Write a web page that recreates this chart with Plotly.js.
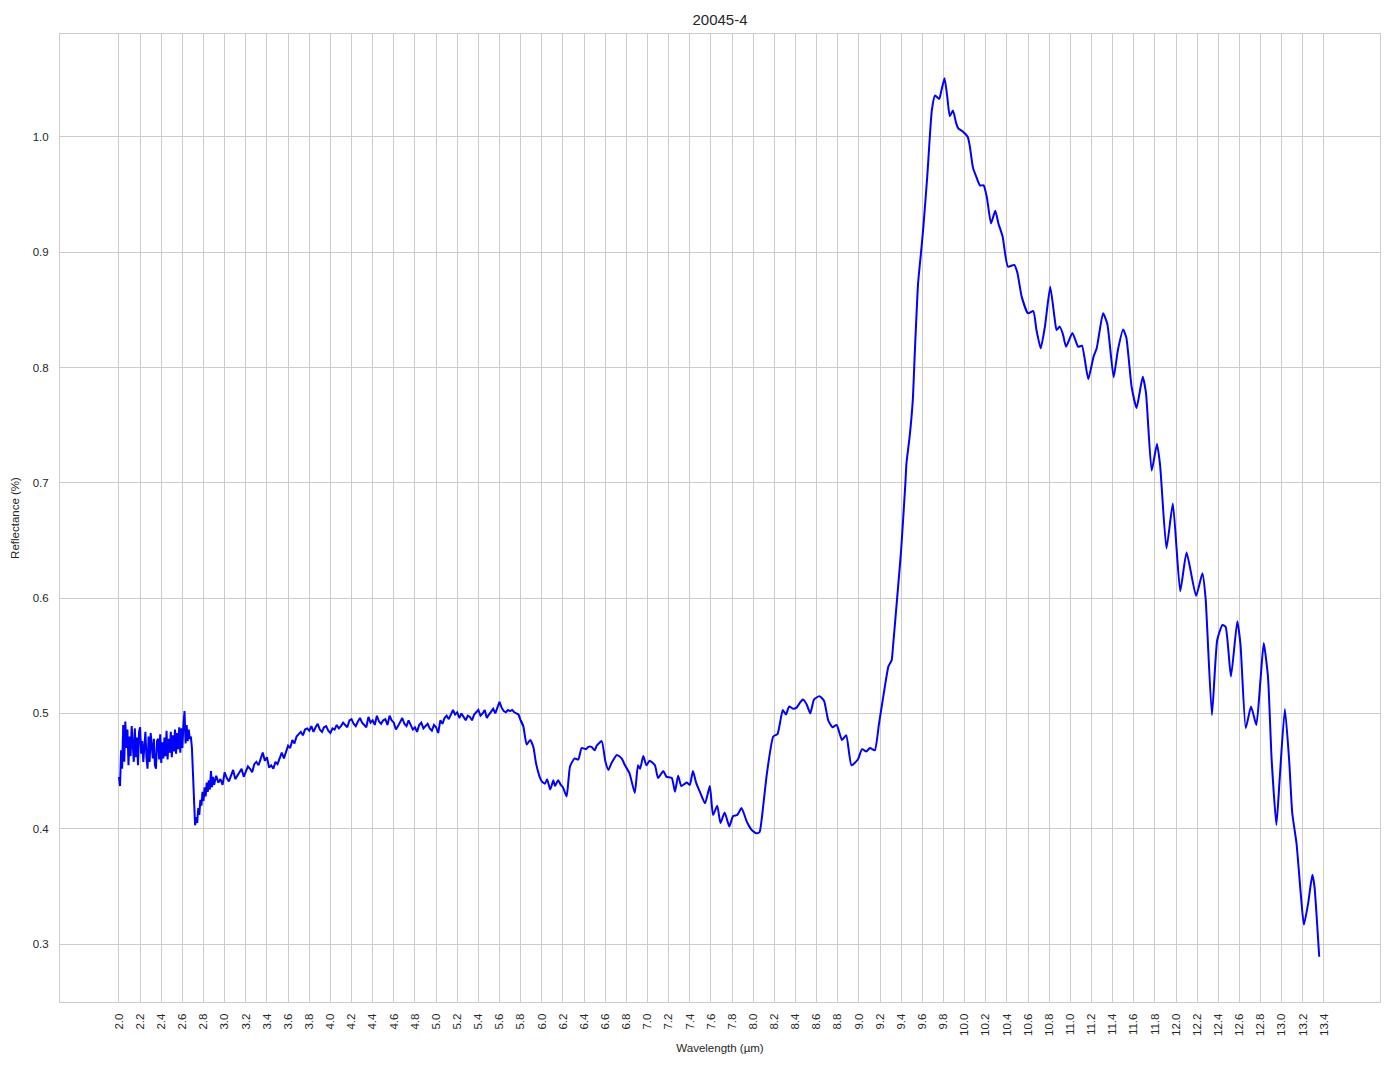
<!DOCTYPE html>
<html>
<head>
<meta charset="utf-8">
<script src="https://cdn.plot.ly/plotly-3.0.1.min.js"></script>
<style>html,body{margin:0;padding:0;background:#fff;}#chart{width:1394px;height:1069px;}</style>
</head>
<body>
<div id="chart"></div>
<script>
// Wavelength (µm) — dense noisy start
const wlStart = [2.00,2.01,2.02,2.03,2.04,2.05,2.06,2.07,2.08,2.09,2.10,2.11,2.12,2.13,2.14,2.15,2.16,2.17,2.18,2.19,
2.20,2.21,2.22,2.23,2.24,2.25,2.26,2.27,2.28,2.29,2.30,2.31,2.32,2.33,2.34,2.35,2.36,2.37,2.38,2.39,
2.40,2.41,2.42,2.43,2.44,2.45,2.46,2.47,2.48,2.49,2.50,2.51,2.52,2.53,2.54,2.55,2.56,2.57,2.58,2.59,
2.60,2.61,2.62,2.63,2.64,2.65,2.66,2.67,2.68,2.69,2.70,2.71,2.72,2.73,2.74,2.75,2.76,2.77,2.78,2.79,
2.80,2.81,2.82,2.83,2.84,2.85,2.86,2.87,2.88,2.89,2.90];
const reflStart = [0.445,0.437,0.468,0.452,0.490,0.458,0.493,0.470,0.486,0.455,0.480,0.463,0.489,0.472,0.458,0.487,0.462,0.479,0.455,0.484,
0.488,0.465,0.476,0.458,0.470,0.484,0.462,0.452,0.480,0.458,0.483,0.470,0.461,0.478,0.455,0.452,0.476,0.478,0.460,0.482,
0.457,0.475,0.461,0.479,0.463,0.485,0.460,0.478,0.466,0.484,0.462,0.481,0.467,0.486,0.465,0.483,0.469,0.488,0.466,0.487,
0.470,0.491,0.502,0.474,0.490,0.476,0.486,0.478,0.480,0.470,0.445,0.412,0.403,0.410,0.405,0.418,0.412,0.425,0.420,0.432,
0.424,0.436,0.428,0.440,0.432,0.442,0.434,0.450,0.436,0.445,0.438];

// Wavelength (µm) — plateau 2.92–5.80
const wlMid = [2.92,2.94,2.96,2.98,3.00,3.02,3.04,3.06,3.08,3.10,3.12,3.14,3.16,3.18,3.20,3.22,3.24,3.26,3.28,3.30,
3.32,3.34,3.36,3.38,3.40,3.42,3.44,3.46,3.48,3.50,3.52,3.54,3.56,3.58,3.60,3.62,3.64,3.66,3.68,3.70,
3.72,3.74,3.76,3.78,3.80,3.82,3.84,3.86,3.88,3.90,3.92,3.94,3.96,3.98,4.00,4.02,4.04,4.06,4.08,4.10,
4.12,4.14,4.16,4.18,4.20,4.22,4.24,4.26,4.28,4.30,4.32,4.34,4.36,4.38,4.40,4.42,4.44,4.46,4.48,4.50,
4.52,4.54,4.56,4.58,4.60,4.62,4.64,4.66,4.68,4.70,4.72,4.74,4.76,4.78,4.80,4.82,4.84,4.86,4.88,4.90,
4.92,4.94,4.96,4.98,5.00,5.02,5.04,5.06,5.08,5.10,5.12,5.14,5.16,5.18,5.20,5.22,5.24,5.26,5.28,5.30,
5.32,5.34,5.36,5.38,5.40,5.42,5.44,5.46,5.48,5.50,5.52,5.54,5.56,5.58,5.60,5.62,5.64,5.66,5.68,5.70,
5.72,5.74,5.76,5.78,5.80];
const reflMid = [0.446,0.440,0.443,0.438,0.449,0.444,0.441,0.447,0.451,0.443,0.446,0.449,0.452,0.445,0.450,0.454,0.452,0.449,0.456,0.458,
0.455,0.460,0.466,0.459,0.462,0.453,0.455,0.452,0.458,0.456,0.462,0.466,0.461,0.467,0.472,0.470,0.477,0.474,0.480,0.482,
0.484,0.481,0.486,0.487,0.485,0.489,0.484,0.488,0.491,0.486,0.484,0.488,0.489,0.485,0.483,0.487,0.486,0.490,0.487,0.489,
0.492,0.490,0.488,0.494,0.495,0.491,0.489,0.493,0.496,0.492,0.490,0.488,0.497,0.492,0.494,0.490,0.498,0.493,0.491,0.494,
0.495,0.490,0.498,0.494,0.492,0.486,0.489,0.493,0.496,0.491,0.489,0.494,0.490,0.486,0.488,0.484,0.490,0.492,0.487,0.489,
0.491,0.487,0.485,0.490,0.488,0.483,0.494,0.491,0.496,0.498,0.495,0.499,0.503,0.499,0.501,0.496,0.500,0.497,0.494,0.498,
0.497,0.494,0.499,0.501,0.503,0.498,0.500,0.503,0.496,0.499,0.502,0.504,0.500,0.506,0.510,0.505,0.502,0.501,0.503,0.502,
0.503,0.501,0.500,0.499,0.494];

// Wavelength (µm) — smoother tail 5.8–13.4
const wlEnd = [5.825,5.857,5.89,5.92,5.945,5.98,6.00,6.03,6.05,6.08,6.11,6.125,6.155,6.18,6.20,6.235,6.267,6.31,6.345,6.377,
6.42,6.44,6.47,6.50,6.52,6.567,6.60,6.63,6.66,6.71,6.755,6.787,6.83,6.88,6.91,6.93,6.96,6.99,7.02,7.07,
7.10,7.15,7.18,7.23,7.26,7.29,7.32,7.37,7.40,7.43,7.46,7.50,7.544,7.59,7.62,7.66,7.69,7.73,7.774,7.81,
7.85,7.89,7.94,7.985,8.03,8.06,8.08,8.13,8.19,8.23,8.25,8.28,8.31,8.34,8.38,8.41,8.44,8.47,8.505,8.54,
8.575,8.626,8.67,8.71,8.75,8.79,8.84,8.88,8.93,8.99,9.03,9.07,9.105,9.15,9.19,9.24,9.28,9.31,9.32,9.36,
9.40,9.44,9.45,9.48,9.51,9.53,9.56,9.59,9.61,9.647,9.69,9.72,9.76,9.78,9.81,9.836,9.86,9.89,9.92,9.94,
9.98,10.03,10.05,10.08,10.11,10.145,10.18,10.21,10.25,10.29,10.32,10.36,10.41,10.47,10.50,10.54,10.60,10.65,10.68,10.72,
10.76,10.81,10.85,10.87,10.90,10.93,10.96,11.02,11.075,11.11,11.17,11.22,11.25,11.31,11.35,11.41,11.45,11.50,11.53,11.58,
11.627,11.685,11.716,11.77,11.82,11.85,11.91,11.97,12.04,12.10,12.19,12.25,12.28,12.34,12.39,12.44,12.47,12.52,12.58,12.61,
12.66,12.71,12.76,12.80,12.83,12.87,12.905,12.95,12.98,13.03,13.07,13.10,13.14,13.18,13.21,13.25,13.29,13.31,13.337,13.355];
const reflEnd = [0.489,0.473,0.477,0.471,0.457,0.445,0.441,0.439,0.443,0.434,0.442,0.437,0.442,0.438,0.436,0.428,0.454,0.461,0.460,0.470,
0.469,0.471,0.471,0.468,0.472,0.476,0.459,0.451,0.457,0.464,0.461,0.455,0.448,0.431,0.455,0.452,0.463,0.455,0.459,0.455,
0.444,0.450,0.445,0.444,0.432,0.446,0.437,0.440,0.438,0.450,0.440,0.431,0.422,0.437,0.412,0.420,0.405,0.414,0.402,0.411,
0.412,0.418,0.406,0.399,0.396,0.397,0.408,0.448,0.480,0.482,0.490,0.503,0.499,0.506,0.504,0.505,0.509,0.512,0.508,0.500,
0.512,0.515,0.511,0.494,0.488,0.490,0.477,0.481,0.455,0.460,0.469,0.467,0.470,0.468,0.491,0.520,0.541,0.546,0.555,0.598,
0.642,0.700,0.717,0.740,0.772,0.815,0.873,0.902,0.922,0.966,1.023,1.036,1.033,1.040,1.051,1.035,1.018,1.023,1.012,1.0075,
1.005,1.000,0.9916,0.973,0.9656,0.958,0.958,0.948,0.925,0.936,0.925,0.9135,0.8875,0.889,0.882,0.8615,0.847,0.849,0.8326,0.8167,
0.8355,0.870,0.844,0.8326,0.8355,0.829,0.818,0.830,0.818,0.819,0.790,0.8095,0.8167,0.847,0.838,0.7916,0.815,0.833,0.826,0.7834,
0.765,0.792,0.778,0.7106,0.7337,0.715,0.643,0.682,0.606,0.6395,0.602,0.6216,0.600,0.4987,0.5637,0.5768,0.575,0.532,0.580,0.560,
0.4872,0.506,0.490,0.530,0.561,0.532,0.4597,0.4033,0.442,0.5038,0.460,0.4134,0.3874,0.344,0.3166,0.335,0.360,0.350,0.315,0.289];

const xTickVals = [2.0,2.2,2.4,2.6,2.8,3.0,3.2,3.4,3.6,3.8,4.0,4.2,4.4,4.6,4.8,5.0,5.2,5.4,5.6,5.8,6.0,6.2,6.4,6.6,6.8,7.0,7.2,7.4,7.6,7.8,
8.0,8.2,8.4,8.6,8.8,9.0,9.2,9.4,9.6,9.8,10.0,10.2,10.4,10.6,10.8,11.0,11.2,11.4,11.6,11.8,12.0,12.2,12.4,12.6,12.8,13.0,13.2,13.4];
const yTickVals = [0.3,0.4,0.5,0.6,0.7,0.8,0.9,1.0];

// noisy part (drawn with straight segments) and smooth part (spline), sharing the junction point
const wlNoisy = wlStart.concat(wlMid, [wlEnd[0]]);
const reflNoisy = reflStart.concat(reflMid, [reflEnd[0]]);
const wlSmooth = [wlMid[wlMid.length - 1]].concat(wlEnd);
const reflSmooth = [reflMid[reflMid.length - 1]].concat(reflEnd);

const font = "'Liberation Sans', Arial, 'DejaVu Sans', sans-serif";
const gridColor = '#cccccc';
const lineStyle = {color: '#0000ff', width: 2};

const traces = [
  {x: wlNoisy, y: reflNoisy, type: 'scatter', mode: 'lines', line: Object.assign({shape: 'linear'}, lineStyle)},
  {x: wlSmooth, y: reflSmooth, type: 'scatter', mode: 'lines', line: Object.assign({shape: 'spline', smoothing: 0.5}, lineStyle)}
];

const layout = {
  width: 1394, height: 1069,
  margin: {l: 60, r: 14, t: 34, b: 67},
  paper_bgcolor: '#ffffff', plot_bgcolor: '#ffffff',
  showlegend: false,
  title: {text: '20045-4', x: 0.5, xanchor: 'center', xref: 'paper', y: 1 - 20/1069, yref: 'container', yanchor: 'middle',
    font: {family: font, size: 15, color: '#262626'}},
  xaxis: {
    range: [1.442, 13.93], tickmode: 'array', tickvals: xTickVals, ticktext: xTickVals.map(v => v.toFixed(1)),
    tickangle: -90, ticks: '', ticklabelstandoff: 6,
    tickfont: {family: font, size: 11.5, color: '#262626'},
    showgrid: true, gridcolor: gridColor, gridwidth: 1, zeroline: false,
    showline: true, linecolor: gridColor, linewidth: 1, mirror: true,
    title: {text: 'Wavelength (µm)', font: {family: font, size: 11.5, color: '#262626'}, standoff: 8}
  },
  yaxis: {
    range: [0.2497, 1.0893], tickmode: 'array', tickvals: yTickVals, ticktext: yTickVals.map(v => v.toFixed(1)),
    ticks: '', ticklabelstandoff: 8,
    tickfont: {family: font, size: 11.5, color: '#262626'},
    showgrid: true, gridcolor: gridColor, gridwidth: 1, zeroline: false,
    showline: true, linecolor: gridColor, linewidth: 1, mirror: true,
    title: {text: 'Reflectance (%)', font: {family: font, size: 11.5, color: '#262626'}, standoff: 10}
  }
};

Plotly.newPlot('chart', traces, layout, {displayModeBar: false, staticPlot: true});
</script>
</body>
</html>
